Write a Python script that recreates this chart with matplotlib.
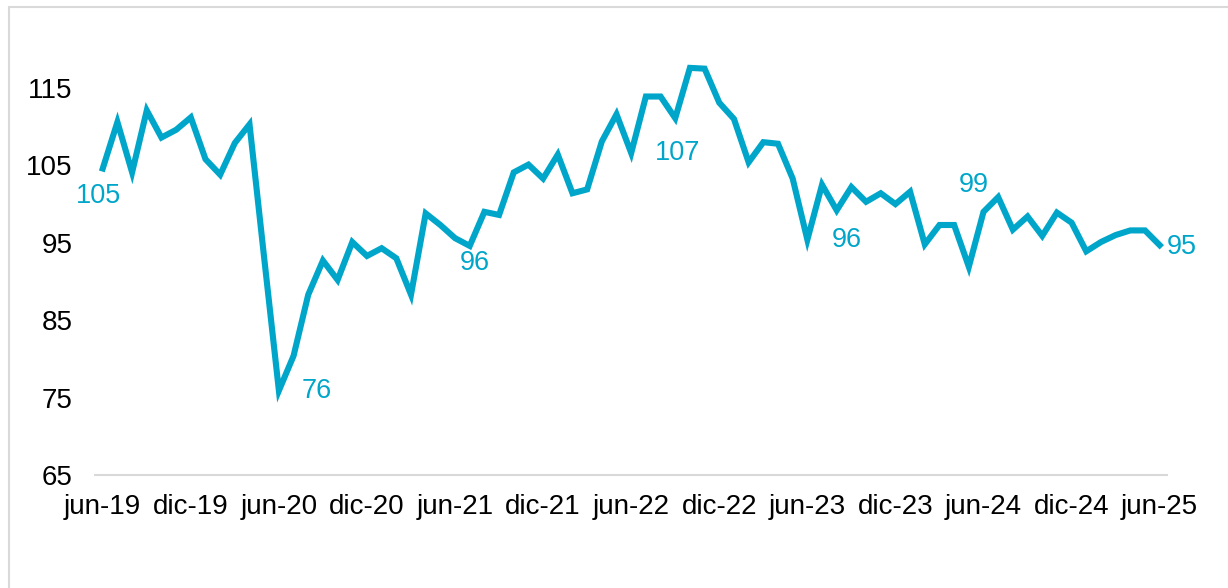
import matplotlib.pyplot as plt
from matplotlib.patches import Rectangle

# monthly index, jun-19 .. jun-25
values = [104.6, 110.6, 104.1, 112.1, 108.6, 109.6, 111.2, 105.8, 103.8, 107.9,
          110.3, 93.0, 75.9, 80.4, 88.3, 92.7, 90.2, 95.1, 93.3, 94.3,
          93.0, 88.3, 98.8, 97.3, 95.6, 94.6, 99.0, 98.6, 104.1, 105.1,
          103.3, 106.4, 101.4, 101.9, 108.1, 111.6, 106.6, 113.9, 113.9, 111.1,
          117.6, 117.5, 113.1, 111.0, 105.4, 108.0, 107.8, 103.3, 95.4, 102.5,
          99.2, 102.2, 100.3, 101.4, 100.0, 101.6, 94.8, 97.3, 97.3, 91.9,
          99.0, 100.9, 96.7, 98.4, 95.9, 98.9, 97.6, 93.9, 95.1, 96.0,
          96.6, 96.6, 94.7]
tick_labels = ["jun-19", "dic-19", "jun-20", "dic-20", "jun-21", "dic-21", "jun-22",
               "dic-22", "jun-23", "dic-23", "jun-24", "dic-24", "jun-25"]
y_ticks = [65, 75, 85, 95, 105, 115]

# labelled points: index, text, offset in pixels
point_labels = [(0, "105", (-4, -28)), (12, "76", (38, 0)), (24, "96", (20, -25)),
                (36, "107", (46, 0)), (48, "96", (39, 0)), (60, "99", (-10, 27)),
                (72, "95", (22, -2))]

color = "#00A6CA"
plt.rcParams["font.family"] = ["Liberation Sans", "DejaVu Sans"]

fig = plt.figure(figsize=(12.28, 5.88), dpi=100)
# light grey frame, cut off at the right and bottom like the original
fig.patches.append(Rectangle((9 / 1228, -0.1), 1.2, 1.1 - 7 / 588, transform=fig.transFigure,
                             fill=False, edgecolor="#D9D9D9", linewidth=1.5))
ax = fig.add_axes([95.4 / 1228, 113 / 588, 1071.6 / 1228, 425.7 / 588])

x = list(range(len(values)))
ax.plot(x, values, color=color, linewidth=4.4, solid_joinstyle="miter")

for i, txt, (dx, dy) in point_labels:
    ax.annotate(txt, (i, values[i]), xytext=(dx, dy), textcoords="offset pixels",
                ha="center", va="center", fontsize=19.5, color=color)

ax.set_xlim(-0.5, len(values) - 0.5)
ax.set_ylim(65, 120)
ax.set_xticks(range(0, len(values), 6))
ax.set_xticklabels(tick_labels)
ax.set_yticks(y_ticks)
ax.tick_params(axis="both", length=0, labelsize=20, colors="black")
ax.tick_params(axis="y", pad=16.5)
ax.tick_params(axis="x", pad=14)
for side in ["top", "right", "left"]:
    ax.spines[side].set_visible(False)
ax.spines["bottom"].set_color("#D9D9D9")
ax.spines["bottom"].set_linewidth(1.5)

fig.savefig("out.png", dpi=100)
